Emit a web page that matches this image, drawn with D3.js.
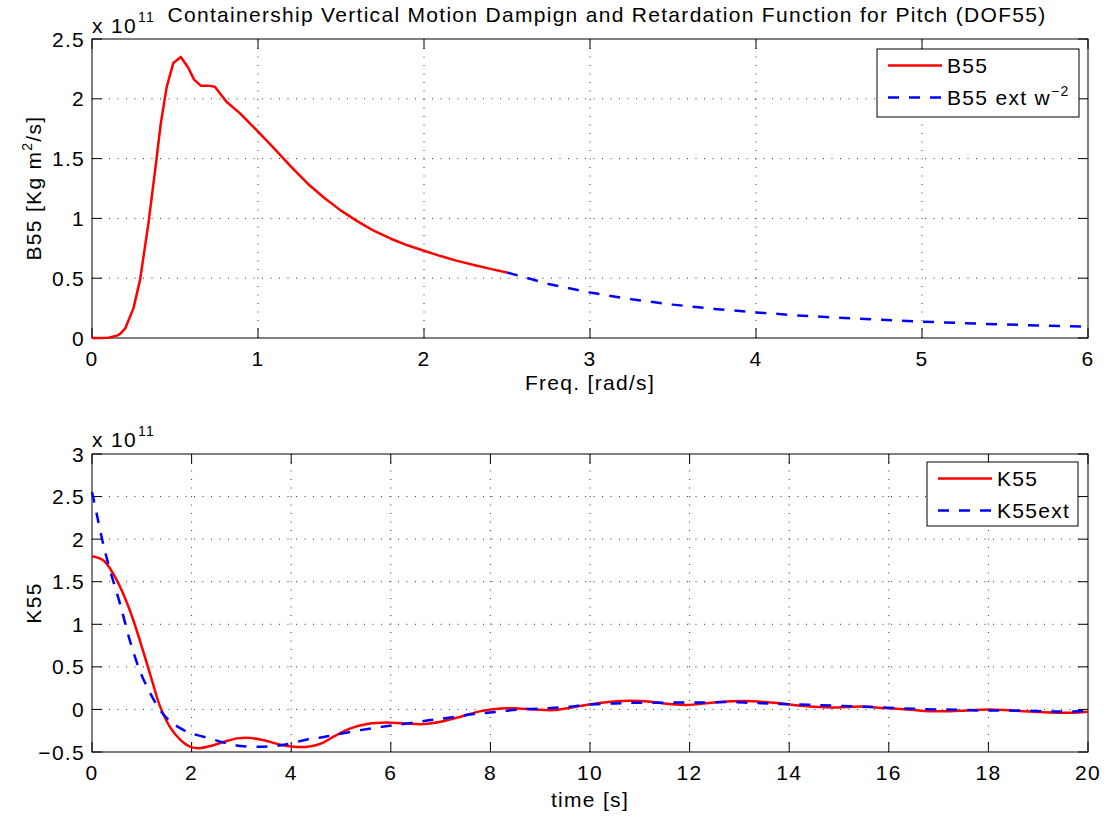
<!DOCTYPE html>
<html>
<head>
<meta charset="utf-8">
<script src="https://cdn.jsdelivr.net/npm/d3@7"></script>
<style>
  body { margin: 0; background: #fff; }
  svg text { font-family: "Liberation Sans", Arial, Helvetica, sans-serif; font-size: 21px; letter-spacing: 1.3px; fill: #000; }
</style>
</head>
<body>
<div id="svganchor"></div>
<script>
// values, in units of 1e11
let freqB = [0, 0.05, 0.1, 0.15, 0.17, 0.2, 0.25, 0.29, 0.34, 0.38, 0.414, 0.45, 0.49, 0.535, 0.58, 0.615, 0.655, 0.70, 0.74, 0.81, 0.89, 0.99, 1.08, 1.2, 1.3, 1.4, 1.5, 1.6, 1.7, 1.8, 1.9, 2.0, 2.1, 2.2, 2.3, 2.4, 2.5];
let b55 = [0, 0, 0.002, 0.02, 0.035, 0.08, 0.25, 0.49, 0.96, 1.40, 1.79, 2.10, 2.30, 2.35, 2.26, 2.16, 2.11, 2.11, 2.10, 1.975, 1.88, 1.74, 1.61, 1.43, 1.29, 1.17, 1.065, 0.975, 0.895, 0.83, 0.775, 0.73, 0.685, 0.645, 0.61, 0.578, 0.548];

let freqExt = [2.5, 2.75, 3, 3.25, 3.5, 3.75, 4, 4.25, 4.5, 4.75, 5, 5.25, 5.5, 5.75, 6];
let b55ext = [0.548, 0.452, 0.380, 0.324, 0.279, 0.243, 0.214, 0.189, 0.169, 0.152, 0.137, 0.124, 0.113, 0.103, 0.095];

let tK = [0, 0.23, 0.44, 0.64, 0.84, 1.04, 1.21, 1.37, 1.58, 1.78, 1.98, 2.15, 2.38, 2.65, 2.92, 3.18, 3.45, 3.79, 4.12, 4.4, 4.62, 4.88, 5.19, 5.53, 5.93, 6.26, 6.67, 7.0, 7.4, 7.81, 8.21, 8.55, 8.88, 9.28, 9.61, 10.02, 10.42, 10.82, 11.22, 11.62, 11.96, 12.43, 13.1, 13.7, 14.24, 14.84, 15.44, 15.91, 16.38, 16.85, 17.39, 17.99, 18.46, 19.06, 19.6, 20];
let k55 = [1.80, 1.75, 1.58, 1.34, 1.03, 0.66, 0.33, 0.03, -0.22, -0.36, -0.44, -0.455, -0.43, -0.38, -0.34, -0.335, -0.362, -0.415, -0.442, -0.432, -0.395, -0.31, -0.222, -0.17, -0.153, -0.164, -0.172, -0.145, -0.086, -0.02, 0.012, 0.012, 0.0, -0.008, 0.02, 0.062, 0.09, 0.102, 0.09, 0.062, 0.052, 0.078, 0.098, 0.078, 0.043, 0.023, 0.035, 0.016, 0.0, -0.02, -0.016, 0.0, -0.012, -0.031, -0.039, -0.027];

let tKext = [0, 0.1, 0.23, 0.37, 0.57, 0.77, 0.97, 1.17, 1.37, 1.58, 1.78, 1.98, 2.24, 2.65, 2.98, 3.32, 3.65, 3.99, 4.32, 4.59, 4.86, 5.39, 5.86, 6.33, 6.8, 7.2, 7.67, 8.14, 8.61, 9.08, 9.55, 10.02, 10.5, 10.88, 11.35, 11.82, 12.29, 12.76, 13.23, 13.7, 14.17, 14.6, 15.07, 15.54, 16.0, 16.5, 16.94, 17.4, 17.87, 18.3, 18.77, 19.24, 19.7, 20];
let k55ext = [2.555, 2.28, 1.93, 1.62, 1.225, 0.79, 0.44, 0.19, -0.01, -0.145, -0.223, -0.28, -0.32, -0.39, -0.43, -0.438, -0.43, -0.40, -0.352, -0.33, -0.30, -0.243, -0.20, -0.164, -0.125, -0.094, -0.055, -0.027, 0, 0.012, 0.03, 0.059, 0.07, 0.078, 0.078, 0.082, 0.082, 0.086, 0.078, 0.066, 0.059, 0.051, 0.039, 0.031, 0.02, 0.008, 0, -0.004, -0.012, -0.012, -0.016, -0.023, -0.023, -0.02];

let topXTicks = [0, 1, 2, 3, 4, 5, 6];
let topYTicks = [0, 0.5, 1, 1.5, 2, 2.5];
let botXTicks = [0, 2, 4, 6, 8, 10, 12, 14, 16, 18, 20];
let botYTicks = [-0.5, 0, 0.5, 1, 1.5, 2, 2.5, 3];

let width = 1106;
let height = 816;

let svg = d3.select("#svganchor").append("svg").attr("width", width).attr("height", height);

let fmt = function (v) {
  return v < 0 ? "\u2212" + Math.abs(v) : String(v);
};

// draws box, grid, inward ticks and tick labels for one axes
function drawAxes(x, y, xTicks, yTicks) {
  let [x0, x1] = x.range();
  let [y0, y1] = y.range();
  let g = svg.append("g");

  // dotted grid
  g.selectAll(".gx").data(xTicks.slice(1, -1)).enter().append("line")
    .attr("x1", d => x(d)).attr("x2", d => x(d))
    .attr("y1", y0).attr("y2", y1)
    .attr("stroke", "#333").attr("stroke-dasharray", "1,7.5");
  g.selectAll(".gy").data(yTicks.slice(1, -1)).enter().append("line")
    .attr("y1", d => y(d)).attr("y2", d => y(d))
    .attr("x1", x0).attr("x2", x1)
    .attr("stroke", "#333").attr("stroke-dasharray", "1,7.5");

  // inward ticks on all four sides
  let tl = 10;
  xTicks.forEach(function (d) {
    g.append("line").attr("x1", x(d)).attr("x2", x(d)).attr("y1", y0).attr("y2", y0 - tl).attr("stroke", "#000");
    g.append("line").attr("x1", x(d)).attr("x2", x(d)).attr("y1", y1).attr("y2", y1 + tl).attr("stroke", "#000");
  });
  yTicks.forEach(function (d) {
    g.append("line").attr("y1", y(d)).attr("y2", y(d)).attr("x1", x0).attr("x2", x0 + tl).attr("stroke", "#000");
    g.append("line").attr("y1", y(d)).attr("y2", y(d)).attr("x1", x1).attr("x2", x1 - tl).attr("stroke", "#000");
  });

  g.append("rect").attr("x", x0).attr("y", y1).attr("width", x1 - x0).attr("height", y0 - y1)
    .attr("fill", "none").attr("stroke", "#000").attr("stroke-width", 1);

  g.selectAll(".xl").data(xTicks).enter().append("text")
    .attr("x", d => x(d)).attr("y", y0 + 28)
    .attr("text-anchor", "middle").text(d => fmt(d));
  g.selectAll(".yl").data(yTicks).enter().append("text")
    .attr("x", x0 - 7).attr("y", d => y(d) + 7.5)
    .attr("text-anchor", "end").text(d => fmt(d));
  return g;
}

function exponentLabel(xPos, yPos) {
  let t = svg.append("text").attr("x", xPos).attr("y", yPos);
  t.append("tspan").text("x 10");
  t.append("tspan").attr("dy", -11).attr("dx", 1).style("font-size", "14px").text("11");
}

function legend(x0, y0, w, h, items) {
  let g = svg.append("g");
  g.append("rect").attr("x", x0).attr("y", y0).attr("width", w).attr("height", h)
    .attr("fill", "#fff").attr("stroke", "#000");
  items.forEach(function (it, i) {
    let yy = y0 + 16.5 + i * 32;
    g.append("line").attr("x1", x0 + 11).attr("x2", x0 + 65).attr("y1", yy).attr("y2", yy)
      .attr("stroke", it.color).attr("stroke-width", 2.5)
      .attr("stroke-dasharray", it.dash ? "11,10" : null);
    let t = g.append("text").attr("x", x0 + 70).attr("y", yy + 7.5);
    t.append("tspan").text(it.label);
    if (it.sup) t.append("tspan").attr("dy", -9).style("font-size", "14px").text(it.sup);
  });
}

// ---------- top panel ----------
let xTop = d3.scaleLinear().domain([0, 6]).range([92, 1088]);
let yTop = d3.scaleLinear().domain([0, 2.5]).range([338, 39]);
drawAxes(xTop, yTop, topXTicks, topYTicks);

let lineTop = d3.line().x(d => xTop(d[0])).y(d => yTop(d[1]));
svg.append("path").datum(d3.zip(freqExt, b55ext)).attr("d", lineTop)
  .attr("fill", "none").attr("stroke", "#0000ff").attr("stroke-width", 2.5).attr("stroke-dasharray", "11,10");
svg.append("path").datum(d3.zip(freqB, b55)).attr("d", lineTop)
  .attr("fill", "none").attr("stroke", "#ff0000").attr("stroke-width", 2.5).attr("stroke-linejoin", "round");

exponentLabel(92, 33);
svg.append("text").attr("x", 607).attr("y", 22).attr("text-anchor", "middle")
  .text("Containership Vertical Motion Dampign and Retardation Function for Pitch (DOF55)");

let yl1 = svg.append("text").attr("text-anchor", "middle").attr("transform", "translate(41,188) rotate(-90)");
yl1.append("tspan").text("B55 [Kg m");
yl1.append("tspan").attr("dy", -9).style("font-size", "14px").text("2");
yl1.append("tspan").attr("dy", 9).text("/s]");

svg.append("text").attr("x", 590).attr("y", 390).attr("text-anchor", "middle").text("Freq. [rad/s]");

legend(877, 49, 202, 68, [
  { label: "B55", color: "#ff0000" },
  { label: "B55 ext w", sup: "\u22122", color: "#0000ff", dash: true }
]);

// ---------- bottom panel ----------
let xBot = d3.scaleLinear().domain([0, 20]).range([92, 1088]);
let yBot = d3.scaleLinear().domain([-0.5, 3]).range([752, 454]);
drawAxes(xBot, yBot, botXTicks, botYTicks);

let lineBot = d3.line().curve(d3.curveCatmullRom.alpha(0.5)).x(d => xBot(d[0])).y(d => yBot(d[1]));
svg.append("path").datum(d3.zip(tK, k55)).attr("d", lineBot)
  .attr("fill", "none").attr("stroke", "#ff0000").attr("stroke-width", 2.5);
svg.append("path").datum(d3.zip(tKext, k55ext)).attr("d", lineBot)
  .attr("fill", "none").attr("stroke", "#0000ff").attr("stroke-width", 2.5).attr("stroke-dasharray", "11,10");

exponentLabel(92, 447);

svg.append("text").attr("text-anchor", "middle").attr("transform", "translate(41,603) rotate(-90)").text("K55");
svg.append("text").attr("x", 590).attr("y", 807).attr("text-anchor", "middle").text("time [s]");

legend(927, 462, 151, 64, [
  { label: "K55", color: "#ff0000" },
  { label: "K55ext", color: "#0000ff", dash: true }
]);
</script>
</body>
</html>
